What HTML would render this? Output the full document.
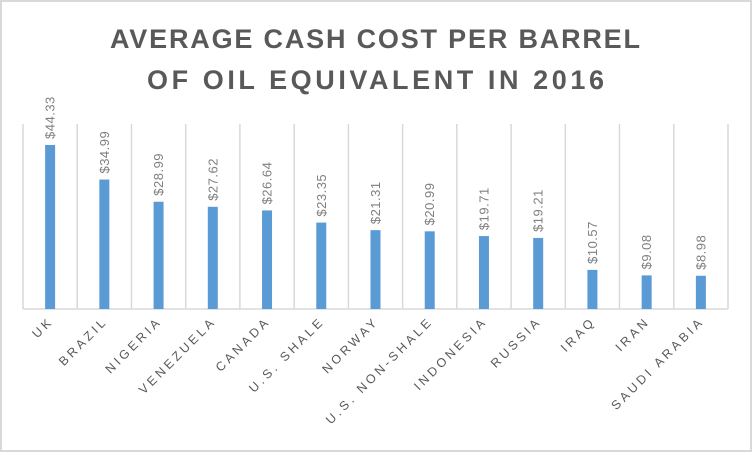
<!DOCTYPE html>
<html><head><style>html,body{margin:0;padding:0;background:#fff}</style></head>
<body>
<svg width="752" height="452" xmlns="http://www.w3.org/2000/svg" font-family="Liberation Sans, sans-serif">
<rect x="1" y="1" width="750" height="450" fill="#fff" stroke="#d9d9d9" stroke-width="2"/>
<text x="110" y="48" font-size="27" font-weight="bold" fill="#595959" textLength="530" lengthAdjust="spacing">AVERAGE  CASH  COST  PER  BARREL</text>
<text x="147" y="89" font-size="27" font-weight="bold" fill="#595959" textLength="457" lengthAdjust="spacing">OF  OIL  EQUIVALENT    IN  2016</text>
<g stroke="#d9d9d9" stroke-width="1.5">
<line x1="23" y1="124" x2="23" y2="309"/><line x1="77.2" y1="124" x2="77.2" y2="309"/><line x1="131.5" y1="124" x2="131.5" y2="309"/><line x1="185.7" y1="124" x2="185.7" y2="309"/><line x1="239.9" y1="124" x2="239.9" y2="309"/><line x1="294.2" y1="124" x2="294.2" y2="309"/><line x1="348.4" y1="124" x2="348.4" y2="309"/><line x1="402.6" y1="124" x2="402.6" y2="309"/><line x1="456.8" y1="124" x2="456.8" y2="309"/><line x1="511.1" y1="124" x2="511.1" y2="309"/><line x1="565.3" y1="124" x2="565.3" y2="309"/><line x1="619.5" y1="124" x2="619.5" y2="309"/><line x1="673.8" y1="124" x2="673.8" y2="309"/><line x1="728" y1="124" x2="728" y2="309"/>
<line x1="23" y1="309" x2="728" y2="309"/>
</g>
<g id="bars" fill="#5b9bd5"></g>
<g id="vals" fill="#7f7f7f" font-size="13" letter-spacing="0.5"></g>
<g id="cats" fill="#595959" font-size="12.5" letter-spacing="3.2"></g>
<script>
var d=[["UK",44.33],["BRAZIL",34.99],["NIGERIA",28.99],["VENEZUELA",27.62],["CANADA",26.64],["U.S. SHALE",23.35],["NORWAY",21.31],["U.S. NON-SHALE",20.99],["INDONESIA",19.71],["RUSSIA",19.21],["IRAQ",10.57],["IRAN",9.08],["SAUDI ARABIA",8.98]];
var ns="http://www.w3.org/2000/svg",b=document.getElementById("bars"),v=document.getElementById("vals"),c=document.getElementById("cats");
d.forEach(function(e,i){var cx=23+54.23*(i+0.5),h=e[1]*3.7,top=309-h;
var r=document.createElementNS(ns,"rect");r.setAttribute("x",cx-5);r.setAttribute("y",top);r.setAttribute("width",10);r.setAttribute("height",h);b.appendChild(r);
var t=document.createElementNS(ns,"text");t.setAttribute("transform","translate("+(cx+4.5)+","+(top-6)+") rotate(-90)");t.textContent="$"+e[1].toFixed(2);v.appendChild(t);
var k=document.createElementNS(ns,"text");k.setAttribute("text-anchor","end");k.setAttribute("transform","translate("+(cx+4)+","+322+") rotate(-45)");k.textContent=e[0];c.appendChild(k);});
</script>
</svg>
</body></html>
